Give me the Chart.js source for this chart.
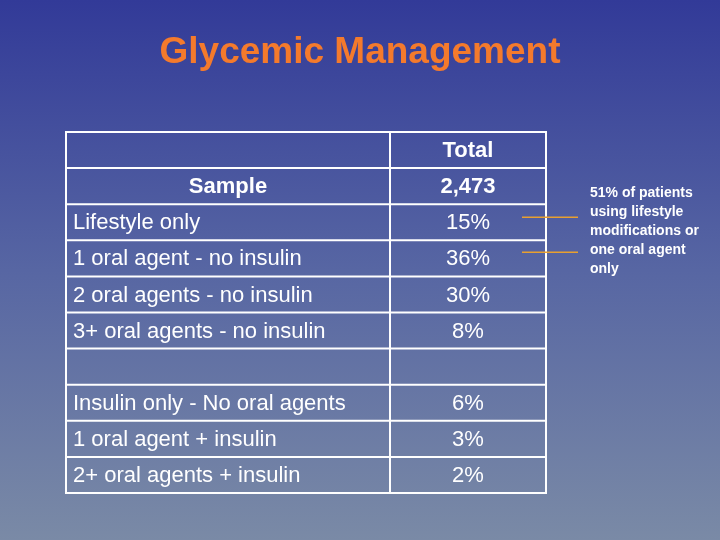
<!DOCTYPE html>
<html><head><meta charset="utf-8">
<script src="https://cdn.jsdelivr.net/npm/chart.js@4/dist/chart.umd.min.js"></script>
<style>html,body{margin:0;padding:0;background:#55609e}#w{width:720px;height:540px}</style>
</head><body><div id="w"><canvas id="c" width="720" height="540"></canvas></div>
<script>
const title = "Glycemic Management";
const rowLabels = ["", "Sample", "Lifestyle only", "1 oral agent - no insulin", "2 oral agents - no insulin", "3+ oral agents - no insulin", " ", "Insulin only - No oral agents", "1 oral agent + insulin", "2+ oral agents + insulin"];
const totalValues = ["Total", "2,473", "15%", "36%", "30%", "8%", "", "6%", "3%", "2%"];
const boldRows = [0, 1];
const noteLines = ["51% of patients", "using lifestyle", "modifications or", "one oral agent", "only"];
const bracketRows = [2, 3];

const F = "'Liberation Sans', Arial, sans-serif";
const tablePlugin = {
  id: 'tbl',
  beforeDraw(chart) {
    const ctx = chart.ctx;
    const g = ctx.createLinearGradient(0, 0, 0, 540);
    g.addColorStop(0, '#323a98');
    g.addColorStop(0.5, '#5766a3');
    g.addColorStop(1, '#7a8aa6');
    ctx.save(); ctx.fillStyle = g; ctx.fillRect(0, 0, 720, 540);
    ctx.fillStyle = '#f47a2c'; ctx.font = 'bold 37px ' + F;
    ctx.textAlign = 'center'; ctx.textBaseline = 'middle';
    ctx.fillText(title, 360, 53);
    ctx.restore();
  },
  afterDraw(chart) {
    const ctx = chart.ctx, y = chart.scales.y, x = chart.scales.x, a = chart.chartArea;
    const n = rowLabels.length;
    const half = (y.getPixelForValue(1) - y.getPixelForValue(0)) / 2;
    const xd = x.getPixelForValue(0.675);
    ctx.save();
    ctx.strokeStyle = '#ffffff'; ctx.lineWidth = 2;
    ctx.strokeRect(a.left, a.top, a.right - a.left, a.bottom - a.top);
    for (let i = 1; i < n; i++) {
      const yy = y.getPixelForValue(i) - half;
      ctx.beginPath(); ctx.moveTo(a.left, yy); ctx.lineTo(a.right, yy); ctx.stroke();
    }
    ctx.beginPath(); ctx.moveTo(xd, a.top); ctx.lineTo(xd, a.bottom); ctx.stroke();
    ctx.fillStyle = '#ffffff'; ctx.textBaseline = 'middle';
    const xc = (xd + a.right) / 2;
    for (let i = 0; i < n; i++) {
      const yy = y.getPixelForValue(i) + 1;
      const b = boldRows.includes(i);
      ctx.font = (b ? 'bold ' : '') + '22px ' + F;
      if (b) { ctx.textAlign = 'center'; ctx.fillText(rowLabels[i], (a.left + xd) / 2, yy); }
      else { ctx.textAlign = 'left'; ctx.fillText(rowLabels[i], a.left + 7, yy); }
      ctx.textAlign = 'center'; ctx.fillText(totalValues[i], xc, yy);
    }
    ctx.strokeStyle = '#e8a030'; ctx.lineWidth = 1.5;
    const y1 = y.getPixelForValue(bracketRows[0]) - 5, y2 = y.getPixelForValue(bracketRows[1]) - 6;
    ctx.beginPath();
    ctx.moveTo(522, y1); ctx.lineTo(578, y1);
    ctx.moveTo(522, y2); ctx.lineTo(578, y2);
    ctx.stroke();
    ctx.font = 'bold 14px ' + F; ctx.textAlign = 'left';
    noteLines.forEach((t, i) => ctx.fillText(t, 590, 193 + i * 19));
    ctx.restore();
  }
};

new Chart(document.getElementById('c'), {
  type: 'bar',
  data: { labels: rowLabels, datasets: [{ data: rowLabels.map(() => 0), backgroundColor: 'rgba(0,0,0,0)' }] },
  options: {
    indexAxis: 'y', responsive: false, animation: false, devicePixelRatio: 1,
    layout: { padding: { left: 66, right: 174, top: 132, bottom: 47 } },
    plugins: { legend: { display: false }, tooltip: { enabled: false } },
    scales: {
      x: { display: false, min: 0, max: 1 },
      y: { display: false, offset: true }
    }
  },
  plugins: [tablePlugin]
});
</script></body></html>
